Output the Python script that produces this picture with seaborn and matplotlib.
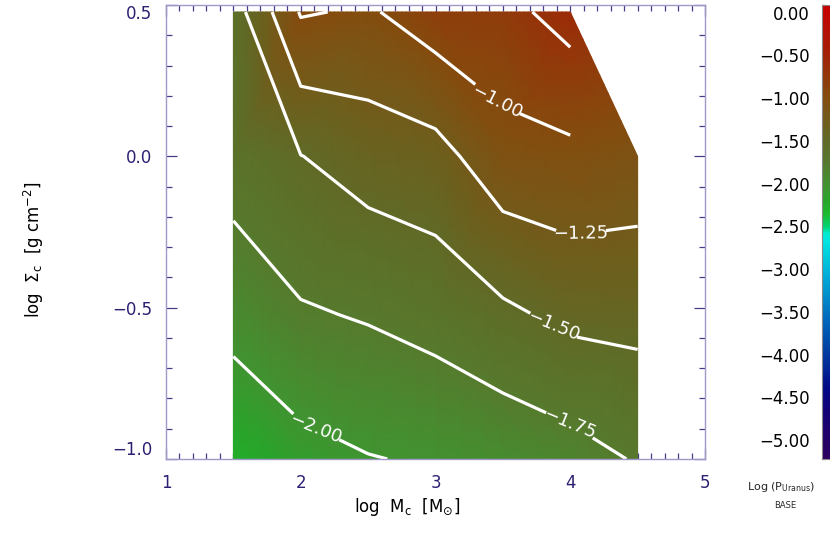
import numpy as np
import matplotlib
matplotlib.use("Agg")
import matplotlib.pyplot as plt
import matplotlib.tri as mtri
from matplotlib.colors import LinearSegmentedColormap
from matplotlib.ticker import MultipleLocator
import seaborn as sns

# grid of the model run: log core mass, log surface density
log_mass = [1.5, 2.0, 2.5, 3.0, 3.5, 4.0, 4.5]
log_sigma = [-1.0, -0.523, 0.0, 0.477]

# log P(Uranus), one list per sigma row (last point of top row not computed)
logp_sig_m100 = [-2.22, -2.08, -2.01, -1.975, -1.92, -1.85, -1.73]
logp_sig_m052 = [-1.91, -1.776, -1.73, -1.66, -1.548, -1.44, -1.427]
logp_sig_000 = [-1.64, -1.505, -1.39, -1.34, -1.091, -1.06, -1.11]
logp_sig_048 = [-1.614, -0.98, -1.03, -0.866, -0.828, -0.65, np.nan]

levels = [-2.0, -1.75, -1.5, -1.25, -1.0, -0.75]
cbar_ticks = [0.0, -0.5, -1.0, -1.5, -2.0, -2.5, -3.0, -3.5, -4.0, -4.5, -5.0]

sns.set_style("white")
plt.rcParams["font.family"] = ["DejaVu Sans"]

# colour table, roughly the IDL one of the original
nodes = [(-5.0, (45, 0, 95)), (-4.5, (20, 0, 118)), (-4.2, (0, 10, 135)),
         (-4.0, (0, 40, 150)), (-3.5, (0, 100, 185)), (-3.0, (0, 170, 215)),
         (-2.6, (0, 228, 225)), (-2.52, (0, 235, 212)), (-2.45, (0, 215, 120)),
         (-2.3, (28, 185, 45)), (-2.15, (40, 165, 42)), (-2.0, (64, 148, 48)),
         (-1.75, (86, 122, 45)), (-1.5, (96, 106, 38)), (-1.2, (118, 88, 24)),
         (-1.0, (132, 76, 14)), (-0.5, (165, 30, 4)), (0.0, (200, 0, 0))]
cmap = LinearSegmentedColormap.from_list(
    "idl", [((v + 5) / 5, tuple(c / 255 for c in rgb)) for v, rgb in nodes])

Z = np.array([logp_sig_m100, logp_sig_m052, logp_sig_000, logp_sig_048])
MX, SY = np.meshgrid(log_mass, log_sigma)
ok = ~np.isnan(Z)
tri = mtri.Triangulation(MX[ok], SY[ok])
# shade from linearly interpolated values rather than blended vertex colours
refiner = mtri.UniformTriRefiner(tri)
tri_f, z_f = refiner.refine_field(Z[ok], triinterpolator=mtri.LinearTriInterpolator(tri, Z[ok]),
                                  subdiv=4)

fig = plt.figure(figsize=(8.3, 5.54), dpi=100)
ax = fig.add_axes([166 / 830, 95 / 554, 539 / 830, 454 / 554])
cax = fig.add_axes([822 / 830, 95 / 554, 16 / 830, 454 / 554])

pc = ax.tripcolor(tri_f, z_f, shading="gouraud", cmap=cmap, vmin=-5, vmax=0)
cs = ax.contour(MX, SY, np.ma.masked_invalid(Z), levels=levels, colors="white",
                linewidths=2.3, linestyles="solid", corner_mask=False)
ax.clabel(cs, levels=[-2.0, -1.75, -1.5, -1.25, -1.0], inline=True, fontsize=13,
          inline_spacing=6, fmt=lambda v: f"{v:.2f}".replace("-", "\u2212"),
          manual=[(2.11, -0.90), (4.0, -0.88), (3.88, -0.555),
                  (4.08, -0.265), (3.46, 0.187)])

ax.set_xlim(1, 5)
ax.set_ylim(-1.0, 0.5)
ax.set_xticks([1, 2, 3, 4, 5])
ax.set_yticks([-1.0, -0.5, 0.0, 0.5])
ax.xaxis.set_minor_locator(MultipleLocator(0.1))
ax.yaxis.set_minor_locator(MultipleLocator(0.1))
ax.tick_params(which="both", direction="in", bottom=True, left=True, top=True,
               right=True, color="#4a3a8c", labelcolor="#2e1f72", labelsize=12,
               width=0.9)
ax.tick_params(which="major", length=8, pad=10)
ax.tick_params(which="minor", length=4)
ax.tick_params(axis="x", which="major", pad=11)
for s in ax.spines.values():
    s.set_color("#a298c8")
    s.set_linewidth(1.0)
ylabels = ax.get_yticklabels()
ylabels[0].set_va("bottom")
ylabels[-1].set_va("top")

ax.set_xlabel(r"log  M$_{\rm c}$  [M$_{\odot}$]", fontsize=12, color="black")
ax.xaxis.set_label_coords(0.447, -0.082)
ax.set_ylabel(r"log  $\Sigma_{\rm c}$  [g cm$^{-2}$]", fontsize=12, color="black")
ax.yaxis.set_label_coords(-0.222, 0.46)

cb = fig.colorbar(pc, cax=cax)
cb.outline.set_edgecolor("#888888")
cb.outline.set_linewidth(0.8)
cax.yaxis.set_ticks_position("both")
cax.set_yticks(cbar_ticks)
cax.tick_params(direction="in", length=3, color="#333333", labelleft=False,
                labelright=False)

# IDL spreads the bar labels a bit inside the bar's ends
lax = fig.add_axes([822 / 830, 95 / 554, 16 / 830, 454 / 554], frameon=False)
lax.set_ylim(-5.222, 0.090)
lax.set_xticks([])
lax.set_yticks(cbar_ticks)
lax.set_yticklabels([f"{t:.2f}".replace("-", "\u2212") for t in cbar_ticks])
lax.tick_params(axis="y", left=True, length=0, pad=9, labelsize=12,
                labelcolor="black")
lax.patch.set_visible(False)

fig.text(781 / 830, 1 - 487 / 554, r"Log (P$_{\rm Uranus}$)", fontsize=8,
         ha="center", va="center")
fig.text(785 / 830, 1 - 506 / 554, "BASE", fontsize=6, ha="center", va="center")

fig.savefig("out.png", dpi=100)
